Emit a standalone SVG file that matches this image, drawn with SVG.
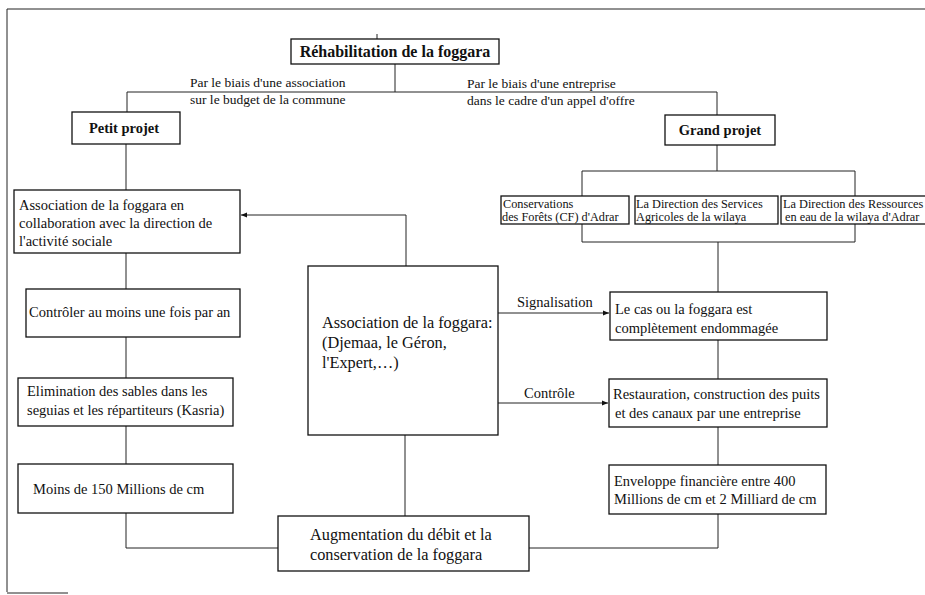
<svg xmlns="http://www.w3.org/2000/svg" width="925" height="595" viewBox="0 0 925 595">
<defs>
<style>
.box{fill:#fff;stroke:#111;stroke-width:1.3}
.ln{fill:none;stroke:#222;stroke-width:1}
.t{font-family:"Liberation Serif","Times New Roman",serif;fill:#111}
.b{font-weight:bold}
</style>
<marker id="ah" viewBox="0 0 10 10" refX="10" refY="5" markerWidth="7" markerHeight="6" orient="auto" markerUnits="userSpaceOnUse">
<path d="M0,1 L10,5 L0,9 Z" fill="#111"/>
</marker>
</defs>
<rect width="925" height="595" fill="#fff"/>
<g id="frame" class="ln">
<path d="M7,592 L7,9 L925,9"/>
<path d="M7,593 L68,593"/>
</g>
<g id="connectors" class="ln">
<path d="M377,34 L377,39"/>
<path d="M395,64 L395,92"/>
<path d="M127,112 L127,92 L717,92 L717,115"/>
<path d="M126,144 L126,190"/>
<path d="M126,253 L126,289"/>
<path d="M126,337 L126,378"/>
<path d="M126,426 L126,464"/>
<path d="M126,513 L126,548 L278,548"/>
<path d="M717,145 L717,171"/>
<path d="M582,196 L582,171 L855,171 L855,196"/>
<path d="M582,224 L582,242 L855,242 L855,224"/>
<path d="M718,242 L718,292"/>
<path d="M718,340 L718,379"/>
<path d="M718,427 L718,465"/>
<path d="M718,514 L718,548 L529,548"/>
<path d="M405,435 L405,516"/>
<path d="M406,266 L406,215 L241,215" marker-end="url(#ah)"/>
<path d="M498,313 L609,313" marker-end="url(#ah)"/>
<path d="M498,403 L608,403" marker-end="url(#ah)"/>
<text class="t" x="517" y="307" font-size="14.5" stroke="none">Signalisation</text>
<text class="t" x="524" y="398" font-size="14.5" stroke="none">Contrôle</text>
<text class="t" x="190" y="87" font-size="13.5" stroke="none">Par le biais d'une association</text>
<text class="t" x="190" y="104" font-size="13.5" stroke="none">sur le budget de la commune</text>
<text class="t" x="467" y="88" font-size="13.5" stroke="none">Par le biais d'une entreprise</text>
<text class="t" x="467" y="105" font-size="13.5" stroke="none">dans le cadre d'un appel d'offre</text>
</g>
<g id="n-rehab">
<rect class="box" x="291" y="39" width="208" height="25"/>
<text class="t b" x="395" y="57" font-size="16" text-anchor="middle">Réhabilitation de la foggara</text>
</g>
<g id="n-petit">
<rect class="box" x="72" y="112" width="108" height="32"/>
<text class="t b" x="124" y="133" font-size="14.5" text-anchor="middle">Petit projet</text>
</g>
<g id="n-grand">
<rect class="box" x="665" y="115" width="110" height="30"/>
<text class="t b" x="720" y="135" font-size="14.5" text-anchor="middle">Grand projet</text>
</g>
<g id="n-assoc-left">
<rect class="box" x="14" y="190" width="226" height="63"/>
<text class="t" font-size="14.5"><tspan x="19" y="210">Association de la foggara en</tspan><tspan x="19" y="228">collaboration avec la direction de</tspan><tspan x="19" y="246">l'activité sociale</tspan></text>
</g>
<g id="n-controler">
<rect class="box" x="26" y="289" width="214" height="48"/>
<text class="t" x="29" y="317" font-size="14.5">Contrôler au moins une fois par an</text>
</g>
<g id="n-elimination">
<rect class="box" x="18" y="378" width="215" height="48"/>
<text class="t" font-size="14.5"><tspan x="27" y="396">Elimination des sables dans les</tspan><tspan x="27" y="415">seguias et les répartiteurs (Kasria)</tspan></text>
</g>
<g id="n-moins">
<rect class="box" x="18" y="464" width="215" height="49"/>
<text class="t" x="33" y="494" font-size="14.5">Moins de 150 Millions de cm</text>
</g>
<g id="n-center">
<rect class="box" x="308" y="266" width="190" height="169"/>
<text class="t" font-size="16.3"><tspan x="322" y="328">Association de la foggara:</tspan><tspan x="322" y="348">(Djemaa, le Géron,</tspan><tspan x="322" y="368">l'Expert,…)</tspan></text>
</g>
<g id="n-cf">
<rect class="box" x="501" y="196" width="128" height="28"/>
<text class="t" font-size="12.3"><tspan x="503" y="208">Conservations</tspan><tspan x="502" y="221">des Forêts (CF) d'Adrar</tspan></text>
</g>
<g id="n-dsa">
<rect class="box" x="635" y="196" width="143" height="28"/>
<text class="t" font-size="12.3"><tspan x="636" y="208">La Direction des Services</tspan><tspan x="636" y="221">Agricoles de la wilaya</tspan></text>
</g>
<g id="n-dre">
<rect class="box" x="781" y="196" width="150" height="28"/>
<text class="t" font-size="12.3"><tspan x="783" y="208">La Direction des Ressources</tspan><tspan x="785" y="221">en eau  de la wilaya d'Adrar</tspan></text>
</g>
<g id="n-cas">
<rect class="box" x="610" y="292" width="217" height="48"/>
<text class="t" font-size="14.5"><tspan x="615" y="314">Le cas ou la foggara est</tspan><tspan x="615" y="333">complètement endommagée</tspan></text>
</g>
<g id="n-restauration">
<rect class="box" x="609" y="379" width="218" height="48"/>
<text class="t" font-size="14.5"><tspan x="613" y="399">Restauration, construction des puits</tspan><tspan x="615" y="418">et des canaux par une entreprise</tspan></text>
</g>
<g id="n-enveloppe">
<rect class="box" x="609" y="465" width="217" height="49"/>
<text class="t" font-size="14.5"><tspan x="614" y="486">Enveloppe financière entre 400</tspan><tspan x="614" y="504">Millions de cm et 2 Milliard de cm</tspan></text>
</g>
<g id="n-augmentation">
<rect class="box" x="278" y="516" width="251" height="55"/>
<text class="t" font-size="16.3"><tspan x="310" y="540">Augmentation du débit et la</tspan><tspan x="310" y="560">conservation de la foggara</tspan></text>
</g>
</svg>
